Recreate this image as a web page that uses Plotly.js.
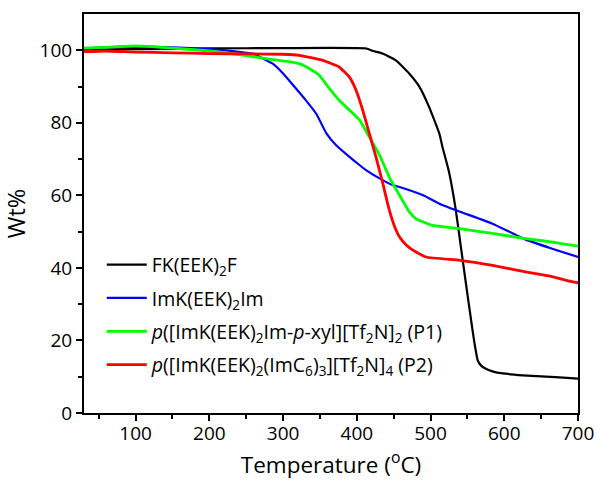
<!DOCTYPE html>
<html>
<head>
<meta charset="utf-8">
<script src="https://cdn.plot.ly/plotly-3.0.1.min.js"></script>
<style>html,body{margin:0;padding:0;background:#fff;}#chart{width:597px;height:488px;}</style>
</head>
<body>
<div id="chart"></div>
<script>
// Series names
const names = [
  "FK(EEK)<sub>2</sub>F",
  "ImK(EEK)<sub>2</sub>Im",
  "<i>p</i>([ImK(EEK)<sub>2</sub>Im-<i>p</i>-xyl][Tf<sub>2</sub>N]<sub>2</sub> (P1)",
  "<i>p</i>([ImK(EEK)<sub>2</sub>(ImC<sub>6</sub>)<sub>3</sub>][Tf<sub>2</sub>N]<sub>4</sub> (P2)"
];
const colors = ["#000000", "#0000ff", "#00ff00", "#ff0000"];

// FK(EEK)2F
const tBlack = [30, 100, 200, 300, 413, 422, 435, 453, 471, 485, 498, 512, 516, 525, 534, 541, 548, 553, 559, 564, 568, 575, 585, 598, 625, 650, 675, 700];
const wBlack = [100.2, 100.3, 100.5, 100.6, 100.5, 99.8, 99.1, 97.2, 93.6, 89.9, 84.4, 77, 73.5, 66.5, 56.3, 46, 35.7, 28.5, 20, 14.5, 13.2, 12.2, 11.4, 10.9, 10.4, 10.1, 9.8, 9.5];

// ImK(EEK)2Im
const tBlue = [30, 60, 100, 150, 200, 240, 260, 273, 286, 300, 314, 331, 345, 359, 372, 390, 404, 413, 435, 449, 458, 490, 512, 540, 584, 629, 665, 700];
const wBlue = [100.5, 100.8, 101, 100.8, 100.3, 99.6, 99, 97.7, 96.3, 93.6, 90.3, 86.2, 82.5, 77, 73.8, 70.6, 68.3, 66.9, 64.2, 62.8, 62.3, 60, 57.7, 55.5, 52.2, 47.8, 45.3, 43];

// P1
const tGreen = [30, 60, 100, 150, 200, 241, 268, 286, 309, 322, 336, 349, 363, 376, 390, 404, 417, 431, 445, 458, 471, 480, 503, 540, 584, 629, 670, 700];
const wGreen = [100.6, 100.8, 101.2, 100.6, 99.8, 98.8, 98, 97.4, 96.8, 96.3, 94.9, 93.1, 89.4, 86.2, 83.5, 80.7, 76.1, 71, 64.6, 60, 55.5, 53.6, 51.7, 50.8, 49.5, 48.1, 47, 46];

// P2
const tRed = [30, 60, 100, 150, 200, 250, 300, 322, 354, 376, 390, 399, 408, 417, 426, 435, 444, 452, 458, 467, 476, 494, 540, 584, 629, 660, 692, 700];
const wRed = [99.6, 99.8, 99.5, 99.3, 99.1, 99.0, 98.9, 98.6, 97.2, 95.4, 92.6, 89, 83.5, 77, 70.6, 63.5, 56, 51, 48.5, 46.3, 44.9, 43, 42.1, 40.7, 38.9, 37.8, 36.2, 35.9];

const xs = [tBlack, tBlue, tGreen, tRed];
const ys = [wBlack, wBlue, wGreen, wRed];
const widths = [2.2, 2.2, 2.8, 2.8];

const traces = xs.map((x, i) => ({
  x: x, y: ys[i], type: "scatter", mode: "lines",
  name: names[i], legendgroup: "g" + i,
  line: {color: colors[i], width: widths[i], shape: "spline", smoothing: 0.4}
}));

const font = "Open Sans, sans-serif";
const layout = {
  width: 597, height: 488,
  margin: {l: 84, r: 19, t: 14, b: 75},
  paper_bgcolor: "#fff", plot_bgcolor: "#fff",
  font: {family: font, size: 19, color: "#000"},
  showlegend: true,
  legend: {x: 0.036, y: 0.42, xanchor: "left", yanchor: "top", bgcolor: "rgba(0,0,0,0)",
           font: {family: font, size: 19.5, color: "#000"}, tracegroupgap: 5, itemwidth: 40},
  xaxis: {
    range: [30, 700], tickvals: [100, 200, 300, 400, 500, 600, 700],
    ticks: "outside", ticklen: 6, tickwidth: 2, tickcolor: "#000",
    minor: {tickvals: [50, 150, 250, 350, 450, 550, 650], ticks: "outside", ticklen: 4, tickwidth: 2, tickcolor: "#000"},
    showline: true, linecolor: "#000", linewidth: 2, mirror: true,
    showgrid: false, zeroline: false, ticklabelstandoff: -4,
    tickfont: {family: font, size: 19},
    title: {text: "Temperature (<sup>o</sup>C)", font: {family: font, size: 22.5}, standoff: 12}
  },
  yaxis: {
    range: [0, 110], tickvals: [0, 20, 40, 60, 80, 100],
    ticks: "outside", ticklen: 6, tickwidth: 2, tickcolor: "#000",
    minor: {tickvals: [10, 30, 50, 70, 90], ticks: "outside", ticklen: 4, tickwidth: 2, tickcolor: "#000"},
    showline: true, linecolor: "#000", linewidth: 2, mirror: true,
    showgrid: false, zeroline: false,
    tickfont: {family: font, size: 19},
    title: {text: "Wt%", font: {family: font, size: 23.5}, standoff: 8}
  }
};

Plotly.newPlot("chart", traces, layout, {displayModeBar: false, staticPlot: true});
</script>
</body>
</html>
